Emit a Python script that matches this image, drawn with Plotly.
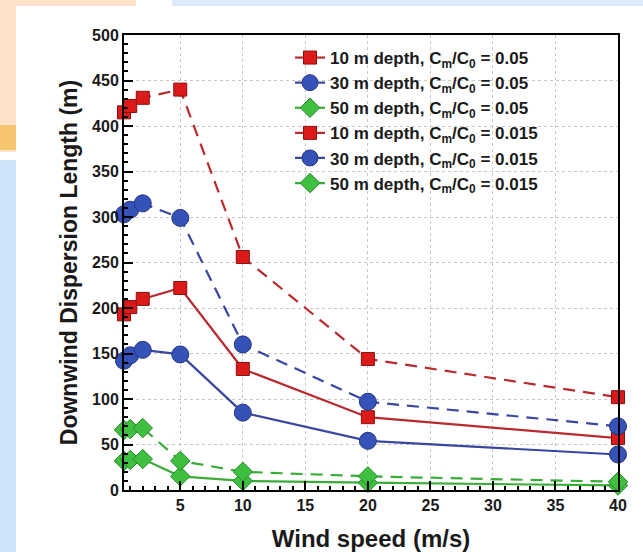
import plotly.graph_objects as go

wind = [0.5, 1, 2, 5, 10, 20, 40]
d10_005 = [193, 201, 210, 222, 133, 80, 57]
d30_005 = [142, 148, 154, 149, 85, 54, 39]
d50_005 = [32, 33, 34, 15, 10, 8, 5]
d10_0015 = [415, 422, 431, 440, 256, 144, 102]
d30_0015 = [303, 308, 315, 299, 160, 97, 70]
d50_0015 = [66, 67, 68, 32, 20, 15, 9]

names = [
    "10 m depth, C<sub>m</sub>/C<sub>0</sub> = 0.05",
    "30 m depth, C<sub>m</sub>/C<sub>0</sub> = 0.05",
    "50 m depth, C<sub>m</sub>/C<sub>0</sub> = 0.05",
    "10 m depth, C<sub>m</sub>/C<sub>0</sub> = 0.015",
    "30 m depth, C<sub>m</sub>/C<sub>0</sub> = 0.015",
    "50 m depth, C<sub>m</sub>/C<sub>0</sub> = 0.015",
]
series = [d10_005, d30_005, d50_005, d10_0015, d30_0015, d50_0015]

red_line, red_mk, red_edge = "#b82a2e", "#dd1a1a", "#8a1010"
blue_line, blue_mk, blue_edge = "#3a46a0", "#3552b8", "#26367e"
green_line, green_mk, green_edge = "#3aac3a", "#3fbf3f", "#2a8a2a"

styles = [
    (red_line, red_mk, red_edge, "square", 13, "solid"),
    (blue_line, blue_mk, blue_edge, "circle", 17, "solid"),
    (green_line, green_mk, green_edge, "diamond", 15, "solid"),
    (red_line, red_mk, red_edge, "square", 13, "12px,8px"),
    (blue_line, blue_mk, blue_edge, "circle", 17, "12px,8px"),
    (green_line, green_mk, green_edge, "diamond", 15, "12px,8px"),
]

fig = go.Figure()
for nm, ys, (lc, mc, ec, sym, sz, dash) in zip(names, series, styles):
    fig.add_trace(go.Scatter(
        x=wind, y=ys, name=nm, mode="lines+markers",
        line=dict(color=lc, width=2.2, dash=dash),
        marker=dict(symbol=sym, size=sz, color=mc, line=dict(color=ec, width=1)),
        cliponaxis=False,
    ))

font_family = "Arial, Liberation Sans, sans-serif"
txt = "#1a1a1a"

# page decoration (paper coordinates; plot area 124..618 px wide, 35..490 px tall)
W0, W1 = 124.0, 618.0
H0, H1 = 35.0, 490.0
def px(x):
    return (x - W0) / (W1 - W0)
def py(y):
    return (H1 - y) / (H1 - H0)

shapes = [
    dict(type="rect", xref="paper", yref="paper", x0=px(0), x1=px(136), y0=py(0), y1=py(152),
         fillcolor="#fde2c8", line=dict(width=0), layer="below"),
    dict(type="rect", xref="paper", yref="paper", x0=px(0), x1=px(16), y0=py(125), y1=py(150),
         fillcolor="#f7c56e", line=dict(width=0), layer="below"),
    dict(type="rect", xref="paper", yref="paper", x0=px(172), x1=px(643), y0=py(0), y1=py(6),
         fillcolor="#dbe9f9", line=dict(width=0), layer="below"),
    dict(type="rect", xref="paper", yref="paper", x0=px(0), x1=px(16), y0=py(160), y1=py(552),
         fillcolor="#cfe3f8", line=dict(width=0), layer="below"),
    dict(type="rect", xref="paper", yref="paper", x0=px(16), x1=px(643), y0=py(6), y1=py(552),
         fillcolor="white", line=dict(width=0), layer="below"),
]

fig.update_layout(
    width=643, height=552,
    margin=dict(l=124, r=25, t=35, b=62),
    paper_bgcolor="white", plot_bgcolor="white",
    font=dict(family=font_family, color=txt),
    shapes=shapes,
    showlegend=True,
    legend=dict(
        x=px(290), y=py(40), xanchor="left", yanchor="top",
        bgcolor="rgba(0,0,0,0)", font=dict(size=17, weight="bold", family=font_family, color=txt),
        tracegroupgap=0, itemwidth=30,
    ),
)

fig.update_xaxes(
    range=[0.5, 40], tickvals=[5, 10, 15, 20, 25, 30, 35, 40],
    ticks="inside", ticklen=9, tickwidth=2, tickcolor="black",
    minor=dict(dtick=1, ticks="inside", ticklen=4, tickcolor="black", showgrid=False),
    showline=True, linecolor="black", linewidth=2, mirror=True,
    showgrid=True, gridcolor="#c8c8c8", griddash="dot", gridwidth=1,
    zeroline=False, automargin=False,
    tickfont=dict(size=16, weight="bold", family=font_family, color=txt),
    title=dict(text="Wind speed (m/s)", font=dict(size=24, weight="bold", family=font_family, color=txt), standoff=18),
)
fig.update_yaxes(
    range=[0, 500], tickvals=[0, 50, 100, 150, 200, 250, 300, 350, 400, 450, 500],
    ticks="inside", ticklen=9, tickwidth=2, tickcolor="black",
    minor=dict(dtick=10, ticks="inside", ticklen=4, tickcolor="black", showgrid=False),
    showline=True, linecolor="black", linewidth=2, mirror=True,
    showgrid=True, gridcolor="#c8c8c8", griddash="dot", gridwidth=1,
    zeroline=False, automargin=False,
    tickfont=dict(size=16, weight="bold", family=font_family, color=txt),
    title=dict(text="Downwind Dispersion Length (m)", font=dict(size=23, weight="bold", family=font_family, color=txt), standoff=8),
)

fig.write_html("out.html")
